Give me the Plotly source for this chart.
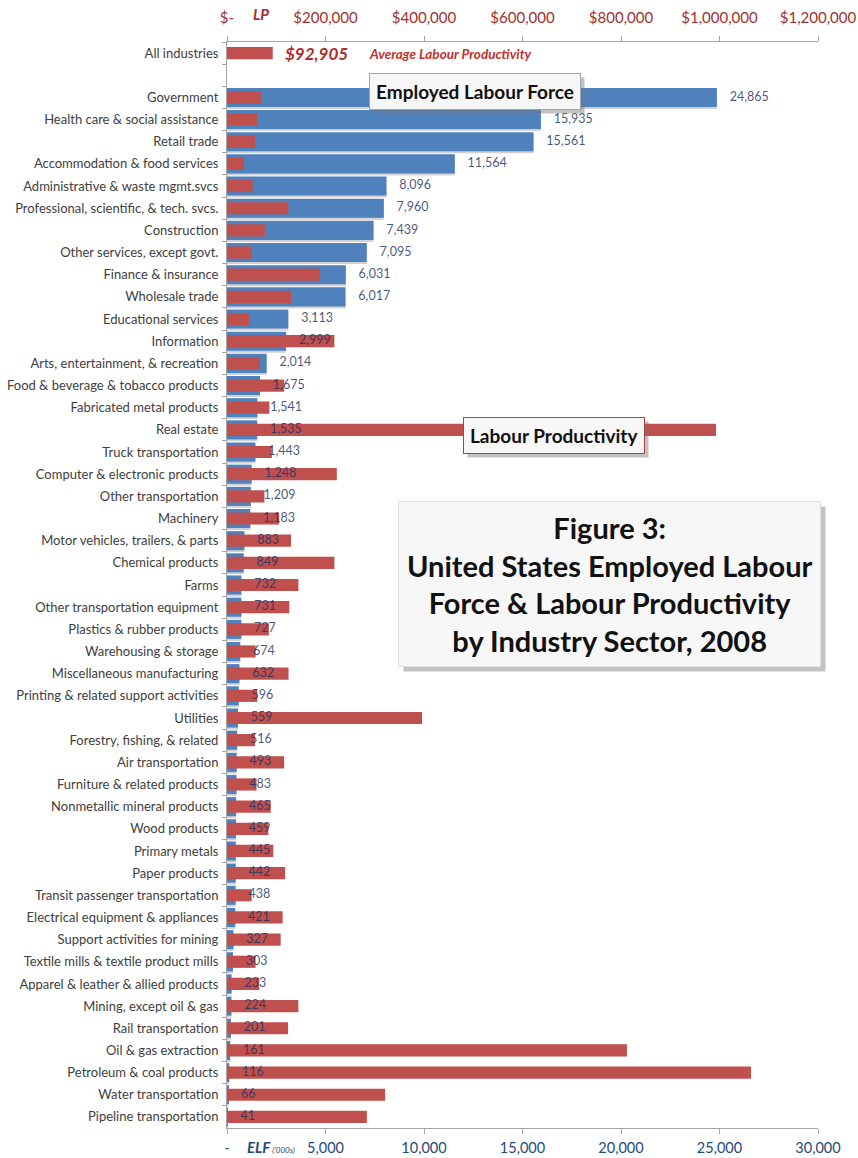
import plotly.graph_objects as go

categories = [
    "All industries", " ", "Government", "Health care & social assistance", "Retail trade",
    "Accommodation & food services", "Administrative & waste mgmt.svcs",
    "Professional, scientific, & tech. svcs.", "Construction", "Other services, except govt.",
    "Finance & insurance", "Wholesale trade", "Educational services", "Information",
    "Arts, entertainment, & recreation", "Food & beverage & tobacco products",
    "Fabricated metal products", "Real estate", "Truck transportation",
    "Computer & electronic products", "Other transportation", "Machinery",
    "Motor vehicles, trailers, & parts", "Chemical products", "Farms",
    "Other transportation equipment", "Plastics & rubber products", "Warehousing & storage",
    "Miscellaneous manufacturing", "Printing & related support activities", "Utilities",
    "Forestry, fishing, & related", "Air transportation", "Furniture & related products",
    "Nonmetallic mineral products", "Wood products", "Primary metals", "Paper products",
    "Transit passenger transportation", "Electrical equipment & appliances",
    "Support activities for mining", "Textile mills & textile product mills",
    "Apparel & leather & allied products", "Mining, except oil & gas", "Rail transportation",
    "Oil & gas extraction", "Petroleum & coal products", "Water transportation",
    "Pipeline transportation",
]

# Employed labour force ('000s)
elf = [
    None, None, 24865, 15935, 15561, 11564, 8096, 7960, 7439, 7095, 6031, 6017, 3113, 2999,
    2014, 1675, 1541, 1535, 1443, 1248, 1209, 1183, 883, 849, 732, 731, 727, 674, 632, 596,
    559, 516, 493, 483, 465, 459, 445, 442, 438, 421, 327, 303, 233, 224, 201, 161, 116, 66, 41,
]

# Labour productivity ($)
lp = [
    92905, None, 69000, 61000, 57000, 34500, 52000, 124500, 77000, 50000, 189000, 130000,
    44700, 218000, 67000, 116000, 86000, 993000, 91000, 223000, 76000, 106000, 130000,
    218000, 145000, 126500, 85000, 58000, 125000, 61500, 396000, 57000, 116000, 60000,
    89000, 84000, 94000, 118000, 50000, 113000, 109000, 58000, 65500, 145000, 124000,
    812000, 1064000, 321000, 284000,
]

elf_ticks = [0, 5000, 10000, 15000, 20000, 25000, 30000]
elf_ticktext = ["-", "5,000", "10,000", "15,000", "20,000", "25,000", "30,000"]
lp_ticks = [0, 200000, 400000, 600000, 800000, 1000000, 1200000]
lp_ticktext = ["$-", "$200,000", "$400,000", "$600,000", "$800,000", "$1,000,000", "$1,200,000"]

BLUE = "#4F81BD"
RED = "#C0504D"
NAVY = "#1F497D"
DARKRED = "#A0302C"
FONT = "Lato"

elf_text = ["" if v is None else f"{v:,}" for v in elf]
n = len(categories)
BLUE_W = 0.86

fig = go.Figure()
# soft shadow under the blue bars
fig.add_trace(go.Bar(
    y=categories, x=elf, orientation="h", xaxis="x", yaxis="y",
    marker=dict(color="rgba(90,90,90,0.28)", line=dict(width=0)),
    width=BLUE_W, offset=-BLUE_W / 2 + 0.09, hoverinfo="skip",
))
fig.add_trace(go.Bar(
    y=categories, x=elf, orientation="h", xaxis="x", yaxis="y",
    marker=dict(color=BLUE, line=dict(width=0)), width=BLUE_W,
    offset=-BLUE_W / 2, hoverinfo="x+y",
))
fig.add_trace(go.Bar(
    y=categories, x=lp, orientation="h", xaxis="x2", yaxis="y",
    marker=dict(color=RED, line=dict(width=0)), width=0.55, hoverinfo="x+y",
))
fig.add_trace(go.Scatter(
    y=categories, x=elf, xaxis="x3", yaxis="y", mode="text",
    text=["    " + t for t in elf_text], textposition="middle right",
    textfont=dict(family=FONT, size=12.5, color="rgba(28,48,96,0.82)"),
    hoverinfo="skip", cliponaxis=False,
))

fig.update_layout(
    width=858, height=1158,
    margin=dict(l=227, r=40, t=42, b=30),
    paper_bgcolor="white", plot_bgcolor="white",
    showlegend=False, barmode="overlay",
    font=dict(family=FONT, size=12, color="#404040"),
    xaxis=dict(
        range=[0, 30000], autorange=False, tickvals=elf_ticks, ticktext=elf_ticktext,
        showgrid=False, zeroline=False, showline=True, linecolor="#A6A6A6",
        ticks="outside", ticklen=5, tickcolor="#A6A6A6", automargin=False,
        ticklabelstandoff=2,
        tickfont=dict(family=FONT, size=14.5, color=NAVY),
    ),
    xaxis2=dict(
        range=[0, 1200000], autorange=False, overlaying="x", side="top", anchor="y",
        tickvals=lp_ticks, ticktext=lp_ticktext,
        showgrid=False, zeroline=False, showline=True, linecolor="#A6A6A6",
        ticks="outside", ticklen=5, tickcolor="#A6A6A6", automargin=False,
        ticklabelstandoff=7,
        tickfont=dict(family=FONT, size=15, color=DARKRED),
    ),
    xaxis3=dict(range=[0, 30000], autorange=False, overlaying="x", visible=False),
    yaxis=dict(
        range=[n - 0.5, -0.5], autorange=False, showgrid=False, zeroline=False,
        showline=True, linecolor="#A6A6A6", automargin=False,
        ticks="outside", ticklen=4, tickcolor="#A6A6A6", tickson="boundaries",
        ticklabelstandoff=5,
        tickfont=dict(family=FONT, size=13, color="#404040"),
    ),
)

# Average label on "All industries" row
fig.add_annotation(
    x=lp[0], y=categories[0], xref="x2", yref="y", xanchor="left", yanchor="middle",
    xshift=10, showarrow=False,
    text="<b><i>$92,905</i></b>",
    font=dict(family=FONT, size=17, color="#B22A2A"),
)
fig.add_annotation(
    x=lp[0], y=categories[0], xref="x2", yref="y", xanchor="left", yanchor="middle",
    xshift=94, yshift=-1, showarrow=False,
    text="<b><i>Average Labour Productivity</i></b>",
    font=dict(family=FONT, size=13.5, color="#C0302C"),
)

# Axis name labels
fig.add_annotation(
    x=0.058, y=1, xref="paper", yref="paper", xanchor="center", yanchor="bottom",
    yshift=17, showarrow=False, text="<b><i>LP</i></b>",
    font=dict(family=FONT, size=15, color="#B22A2A"),
)
fig.add_annotation(
    x=0.074, y=0, xref="paper", yref="paper", xanchor="center", yanchor="top",
    yshift=-8, showarrow=False,
    text="<b><i>ELF</i></b><i><span style='font-size:8px'> ('000s)</span></i>",
    font=dict(family=FONT, size=15, color=NAVY),
)

def boxed(text, x, y, size, border, pad, shadow=4):
    fig.add_annotation(
        x=x, y=y, xref="x", yref="y", xanchor="center", yanchor="middle",
        showarrow=False, xshift=shadow, yshift=-shadow, text=text,
        font=dict(family=FONT, size=size, color="rgba(0,0,0,0)"),
        bgcolor="rgba(120,120,120,0.45)", borderpad=pad, borderwidth=1,
        bordercolor="rgba(0,0,0,0)",
    )
    fig.add_annotation(
        x=x, y=y, xref="x", yref="y", xanchor="center", yanchor="middle",
        showarrow=False, text=text,
        font=dict(family=FONT, size=size, color="#111111"),
        bgcolor="#F7F7F7", bordercolor=border, borderwidth=1, borderpad=pad,
    )

boxed("<b>Employed Labour Force</b>", 12590, 1.75, 19, "#9AA6B8", 6)
boxed("<b>Labour Productivity</b>", 16600, 17.25, 19, "#B0403C", 6)
boxed("<b>Figure 3:<br>United States Employed Labour<br>Force &amp; Labour Productivity<br>"
      "by Industry Sector, 2008</b>", 19440, 23.95, 29, "#E0E0E0", 8, shadow=5)

fig.write_html("out.html")
